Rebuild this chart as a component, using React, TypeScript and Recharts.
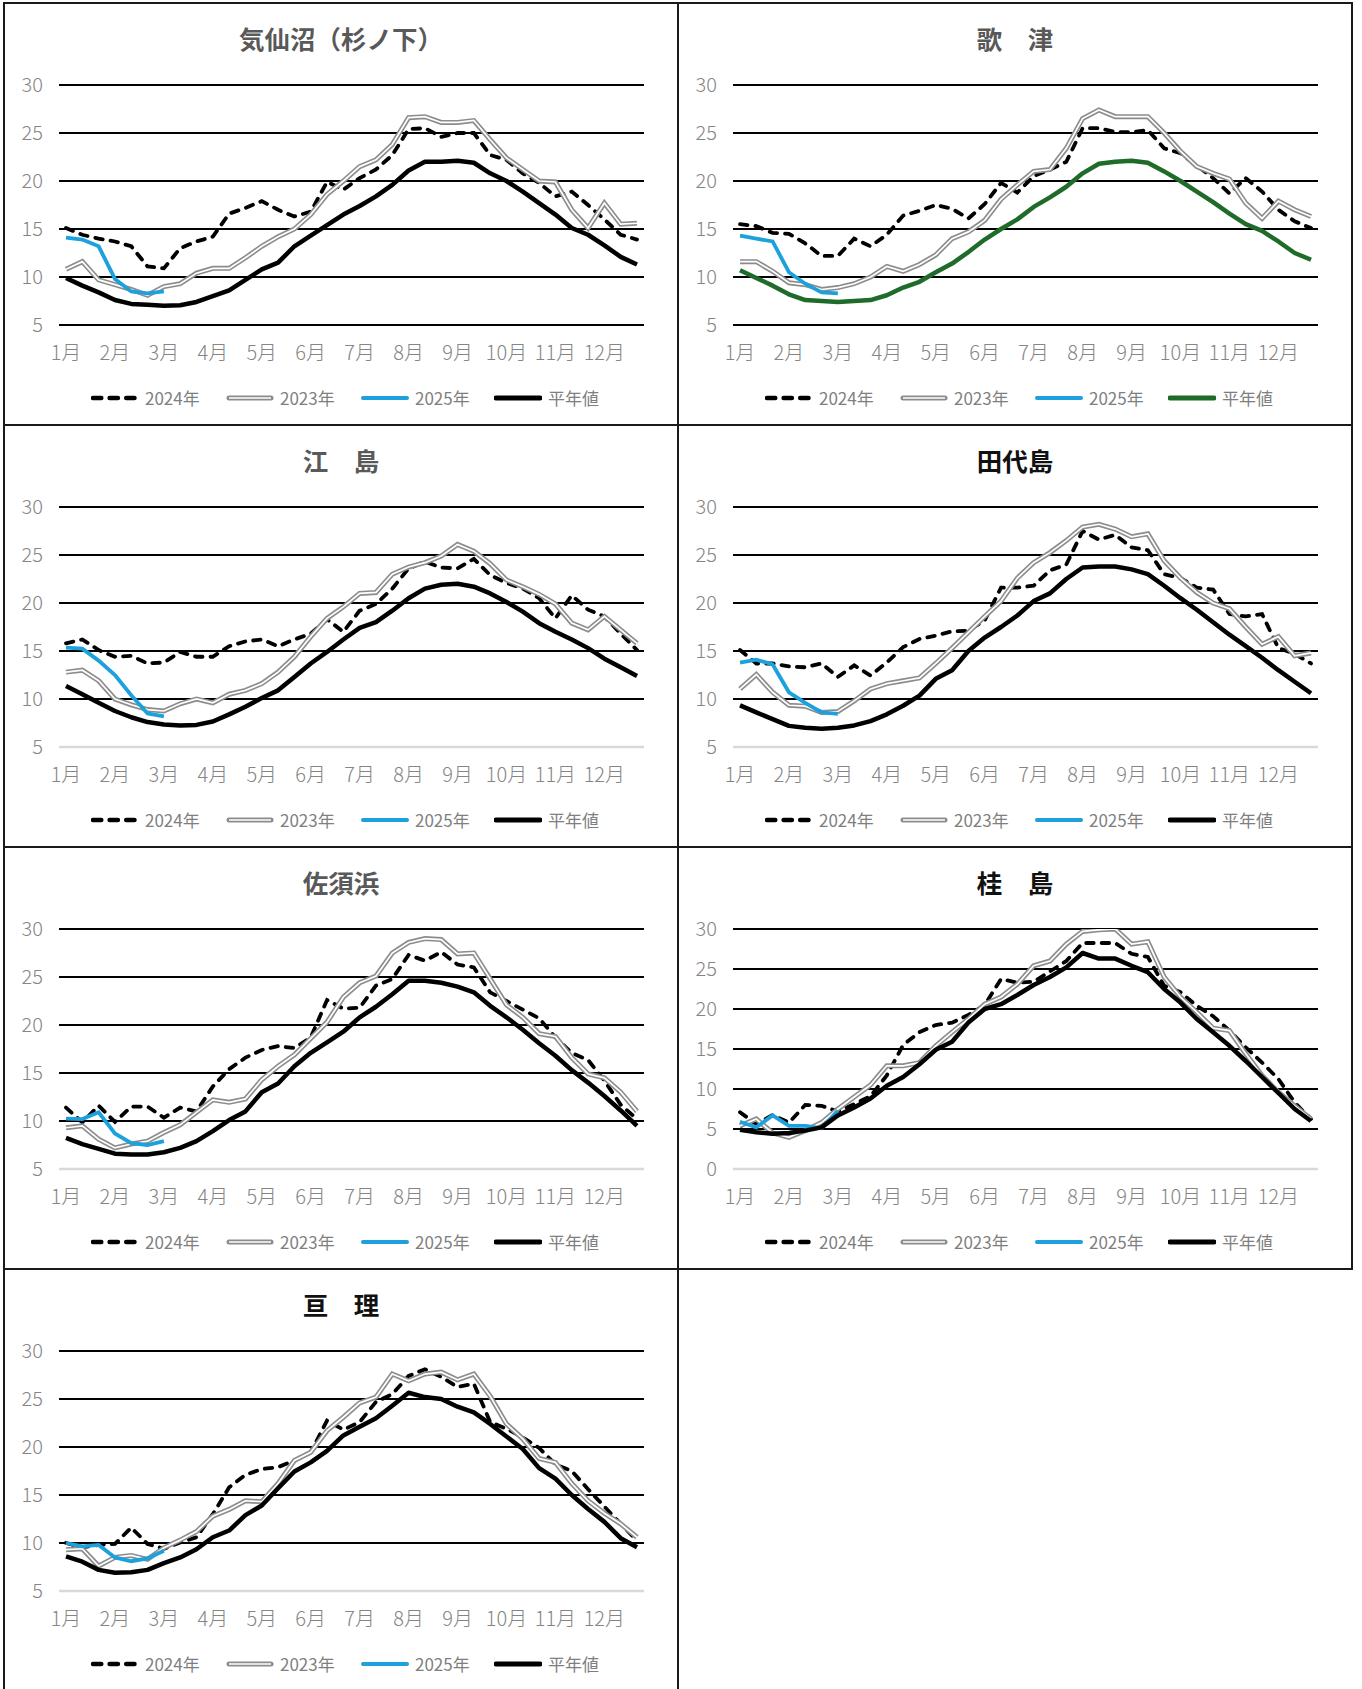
import React from 'react';
import { LineChart, Line, XAxis, YAxis, CartesianGrid, ReferenceLine } from 'recharts';

// 月ラベル（上旬ごとに表示）
const monthLabels = ['1月', '2月', '3月', '4月', '5月', '6月', '7月', '8月', '9月', '10月', '11月', '12月'];
const decades = ['上旬', '中旬', '下旬'];

// 気仙沼（杉ノ下）
const kesennuma2024 = [15.1, 14.4, 14.0, 13.7, 13.2, 11.1, 10.9, 13.0, 13.7, 14.2, 16.6, 17.2, 17.9, 17.0, 16.3, 16.8, 19.9, 19.1, 20.3, 21.2, 22.7, 25.4, 25.5, 24.6, 25.0, 25.0, 22.7, 22.2, 20.8, 19.8, 18.4, 18.9, 17.5, 16.0, 14.4, 13.9];
const kesennuma2023 = [10.8, 11.6, 9.7, 9.2, 8.7, 8.1, 9.0, 9.3, 10.4, 10.9, 10.9, 12.0, 13.2, 14.2, 15.0, 16.5, 18.6, 20.0, 21.5, 22.2, 23.8, 26.6, 26.7, 26.1, 26.1, 26.3, 24.3, 22.4, 21.2, 20.0, 19.9, 17.0, 15.1, 17.7, 15.5, 15.6];
const kesennuma2025 = [14.1, 13.9, 13.2, 9.8, 8.5, 8.3, 8.5];
const kesennumaNormal = [9.9, 9.1, 8.4, 7.6, 7.2, 7.1, 7.0, 7.05, 7.4, 8.0, 8.6, 9.7, 10.8, 11.5, 13.2, 14.3, 15.4, 16.5, 17.4, 18.4, 19.6, 21.1, 22.0, 22.0, 22.1, 21.9, 20.8, 20.0, 18.9, 17.7, 16.5, 15.1, 14.4, 13.3, 12.1, 11.3];

// 歌津
const utatsu2024 = [15.5, 15.3, 14.6, 14.5, 13.5, 12.2, 12.2, 14.0, 13.2, 14.4, 16.4, 16.9, 17.5, 17.1, 16.1, 17.6, 19.8, 18.8, 20.5, 21.2, 22.0, 25.5, 25.5, 25.1, 25.1, 25.3, 23.4, 22.9, 21.6, 20.3, 18.7, 20.3, 18.9, 17.0, 15.8, 15.1];
const utatsu2023 = [11.6, 11.6, 10.6, 9.4, 9.2, 8.7, 8.9, 9.3, 10.0, 11.1, 10.6, 11.3, 12.3, 14.0, 14.7, 15.9, 18.1, 19.6, 21.0, 21.2, 23.4, 26.5, 27.4, 26.7, 26.7, 26.7, 25.0, 23.1, 21.5, 20.8, 20.2, 17.7, 16.1, 17.9, 17.0, 16.3];
const utatsu2025 = [14.3, 14.0, 13.7, 10.5, 9.3, 8.4, 8.3];
const utatsuNormal = [10.7, 9.9, 9.1, 8.2, 7.6, 7.5, 7.4, 7.5, 7.6, 8.1, 8.9, 9.5, 10.5, 11.4, 12.6, 13.9, 15.0, 16.0, 17.3, 18.3, 19.4, 20.8, 21.8, 22.0, 22.1, 21.9, 21.0, 20.0, 18.9, 17.8, 16.6, 15.5, 14.8, 13.7, 12.5, 11.8];

// 江島
const enoshima2024 = [15.8, 16.2, 15.1, 14.4, 14.5, 13.7, 13.8, 14.9, 14.4, 14.4, 15.5, 16.0, 16.2, 15.5, 16.2, 16.8, 18.3, 17.0, 19.2, 19.9, 21.5, 23.6, 24.3, 23.7, 23.6, 24.6, 22.9, 22.1, 21.5, 20.5, 18.4, 20.8, 19.3, 18.6, 16.8, 15.1];
const enoshima2023 = [12.8, 13.0, 11.9, 10.0, 9.4, 8.9, 8.75, 9.5, 10.0, 9.6, 10.5, 10.9, 11.6, 12.8, 14.4, 16.5, 18.4, 19.6, 21.0, 21.1, 23.0, 23.75, 24.2, 24.9, 26.1, 25.4, 24.1, 22.4, 21.7, 20.9, 19.9, 17.9, 17.2, 18.6, 17.2, 15.8];
const enoshima2025 = [15.35, 15.25, 14.0, 12.5, 10.4, 8.5, 8.2];
const enoshimaNormal = [11.35, 10.5, 9.6, 8.75, 8.1, 7.6, 7.35, 7.25, 7.3, 7.65, 8.4, 9.2, 10.1, 10.9, 12.3, 13.7, 14.9, 16.2, 17.4, 18.0, 19.2, 20.5, 21.5, 21.9, 22.0, 21.7, 21.0, 20.1, 19.1, 17.9, 17.0, 16.2, 15.3, 14.2, 13.3, 12.4];

// 田代島
const tashiro2024 = [15.1, 13.7, 13.7, 13.4, 13.3, 13.7, 12.3, 13.5, 12.45, 13.8, 15.4, 16.25, 16.6, 17.05, 17.1, 18.2, 21.6, 21.6, 21.8, 23.4, 24.0, 27.5, 26.6, 27.1, 25.8, 25.5, 23.0, 22.6, 21.6, 21.4, 18.85, 18.6, 18.85, 15.3, 14.7, 13.7];
const tashiro2023 = [11.05, 12.55, 10.7, 9.35, 9.25, 8.6, 8.7, 9.8, 11.05, 11.6, 11.9, 12.2, 13.7, 15.3, 16.95, 18.6, 20.2, 22.6, 24.2, 25.25, 26.5, 27.9, 28.2, 27.7, 26.9, 27.2, 24.4, 22.6, 21.1, 20.0, 19.4, 17.5, 15.7, 16.5, 14.5, 14.8];
const tashiro2025 = [13.8, 14.1, 13.6, 10.7, 9.6, 8.6, 8.45];
const tashiroNormal = [9.33, 8.6, 7.9, 7.2, 7.0, 6.9, 7.0, 7.25, 7.7, 8.4, 9.3, 10.35, 12.1, 13.0, 15.0, 16.4, 17.5, 18.7, 20.2, 21.0, 22.5, 23.7, 23.8, 23.8, 23.5, 23.0, 21.8, 20.5, 19.3, 18.0, 16.7, 15.5, 14.3, 13.0, 11.8, 10.6];

// 佐須浜
const susuhama2024 = [11.4, 9.85, 11.6, 9.9, 11.5, 11.5, 10.35, 11.4, 11.0, 13.6, 15.4, 16.6, 17.4, 17.8, 17.6, 18.7, 22.6, 21.7, 21.8, 24.1, 24.8, 27.3, 26.7, 27.6, 26.3, 26.0, 23.4, 22.5, 21.6, 20.7, 18.7, 17.1, 16.35, 14.2, 11.7, 10.2];
const susuhama2023 = [9.3, 9.5, 8.1, 7.2, 7.6, 7.9, 8.8, 9.6, 10.9, 12.2, 11.95, 12.3, 14.3, 15.7, 16.9, 18.6, 20.3, 22.9, 24.4, 25.1, 27.5, 28.6, 29.0, 28.9, 27.4, 27.5, 24.8, 22.1, 20.8, 19.1, 18.8, 16.6, 14.9, 14.5, 13.0, 11.0];
const susuhama2025 = [10.25, 10.2, 10.9, 8.7, 7.7, 7.5, 7.9];
const susuhamaNormal = [8.24, 7.6, 7.1, 6.6, 6.5, 6.5, 6.75, 7.2, 7.9, 8.95, 10.1, 11.0, 13.0, 13.9, 15.7, 17.1, 18.2, 19.3, 20.8, 21.9, 23.2, 24.6, 24.6, 24.4, 24.0, 23.4, 22.0, 20.8, 19.5, 18.1, 16.8, 15.3, 14.0, 12.6, 11.1, 9.5];

// 桂島
const katsura2024 = [7.1, 5.6, 6.75, 5.8, 8.0, 7.9, 7.2, 8.1, 9.1, 11.7, 15.5, 17.1, 18.0, 18.3, 19.25, 20.5, 23.75, 23.3, 23.4, 24.7, 26.0, 28.25, 28.25, 28.25, 26.9, 26.5, 22.9, 22.1, 20.4, 19.1, 17.3, 15.2, 13.3, 11.25, 8.3, 6.25];
const katsura2023 = [5.4, 6.25, 4.5, 3.95, 4.8, 5.8, 7.5, 9.0, 10.5, 12.9, 12.9, 13.3, 15.4, 17.1, 18.75, 20.6, 21.5, 23.1, 25.4, 26.0, 28.1, 29.7, 29.9, 30.0, 28.1, 28.4, 24.0, 21.5, 19.6, 17.6, 17.3, 14.4, 11.7, 9.6, 7.9, 6.25];
const katsura2025 = [5.9, 5.2, 6.7, 5.4, 5.4, 5.1, 7.3];
const katsuraNormal = [4.9, 4.6, 4.4, 4.5, 4.8, 5.2, 6.7, 7.7, 8.8, 10.4, 11.5, 13.1, 14.9, 15.9, 18.3, 20.0, 20.6, 21.75, 23.0, 24.0, 25.2, 27.0, 26.3, 26.3, 25.4, 24.6, 22.5, 20.8, 18.75, 17.1, 15.4, 13.5, 11.5, 9.5, 7.5, 6.0];

// 亘理
const watari2024 = [10.0, 9.55, 9.8, 9.9, 11.6, 9.9, 9.4, 10.05, 10.6, 13.0, 15.8, 17.1, 17.7, 17.9, 18.6, 19.45, 22.75, 21.8, 22.6, 24.7, 25.5, 27.4, 28.1, 27.3, 26.25, 26.6, 22.6, 21.9, 21.0, 19.9, 18.2, 17.5, 15.6, 13.8, 12.0, 10.25];
const watari2023 = [9.3, 9.4, 7.6, 8.5, 8.7, 8.3, 9.5, 10.3, 11.2, 12.8, 13.5, 14.4, 14.3, 16.2, 18.6, 19.45, 21.7, 23.1, 24.6, 25.2, 27.6, 26.9, 27.6, 27.8, 27.0, 27.6, 25.3, 22.4, 20.85, 18.8, 18.4, 16.2, 14.4, 13.1, 12.0, 10.6];
const watari2025 = [10.0, 9.65, 9.8, 8.5, 8.1, 8.4, 9.2];
const watariNormal = [8.6, 8.05, 7.2, 6.9, 6.95, 7.2, 7.9, 8.5, 9.35, 10.6, 11.3, 12.9, 13.9, 15.7, 17.45, 18.4, 19.6, 21.2, 22.1, 23.0, 24.3, 25.65, 25.2, 25.0, 24.2, 23.6, 22.4, 21.1, 19.8, 17.8, 16.7, 15.0, 13.55, 12.2, 10.5, 9.55];

const periods = monthLabels.flatMap(m => decades.map(d => m + d));

type Station = {
  title: string;
  titleColor: string;
  s2024: number[];
  s2023: number[];
  s2025: number[];
  normal: number[];
  normalColor: string;
  yMin: number;
  grayBottom: boolean;
};

const stations: Station[] = [
  { title: '気仙沼（杉ノ下）', titleColor: '#595959', s2024: kesennuma2024, s2023: kesennuma2023, s2025: kesennuma2025, normal: kesennumaNormal, normalColor: '#000', yMin: 5, grayBottom: false },
  { title: '歌　津', titleColor: '#595959', s2024: utatsu2024, s2023: utatsu2023, s2025: utatsu2025, normal: utatsuNormal, normalColor: '#1e6b2a', yMin: 5, grayBottom: false },
  { title: '江　島', titleColor: '#595959', s2024: enoshima2024, s2023: enoshima2023, s2025: enoshima2025, normal: enoshimaNormal, normalColor: '#000', yMin: 5, grayBottom: true },
  { title: '田代島', titleColor: '#111', s2024: tashiro2024, s2023: tashiro2023, s2025: tashiro2025, normal: tashiroNormal, normalColor: '#000', yMin: 5, grayBottom: true },
  { title: '佐須浜', titleColor: '#595959', s2024: susuhama2024, s2023: susuhama2023, s2025: susuhama2025, normal: susuhamaNormal, normalColor: '#000', yMin: 5, grayBottom: true },
  { title: '桂　島', titleColor: '#111', s2024: katsura2024, s2023: katsura2023, s2025: katsura2025, normal: katsuraNormal, normalColor: '#000', yMin: 0, grayBottom: true },
  { title: '亘　理', titleColor: '#111', s2024: watari2024, s2023: watari2023, s2025: watari2025, normal: watariNormal, normalColor: '#000', yMin: 5, grayBottom: true },
];

const panelPos = [[3, 2], [677, 2], [3, 424], [677, 424], [3, 846], [677, 846], [3, 1268]];

const tickStyle = { fill: '#858585', fontSize: 20, fontWeight: 300 };

function LegendIcon({ kind, color }: { kind: string; color?: string }) {
  if (kind === 'dash') {
    return (
      <svg width={48} height={12}>
        <line x1={2} y1={6} x2={47} y2={6} stroke="#000" strokeWidth={4.5} strokeDasharray="8.3 8.3" strokeLinecap="round" />
      </svg>
    );
  }
  if (kind === 'double') {
    return (
      <svg width={48} height={12}>
        <line x1={3} y1={6} x2={45} y2={6} stroke="#8c8c8c" strokeWidth={5} strokeLinecap="round" />
        <line x1={3} y1={6} x2={45} y2={6} stroke="#fff" strokeWidth={1.6} />
      </svg>
    );
  }
  return (
    <svg width={48} height={12}>
      <line x1={2} y1={6} x2={46} y2={6} stroke={color} strokeWidth={kind === 'thick' ? 5 : 4} strokeLinecap="round" />
    </svg>
  );
}

function Panel({ st, left, top, last }: { st: Station; left: number; top: number; last: boolean }) {
  const rows = periods.map((p, i) => ({
    period: p,
    y2024: st.s2024[i],
    y2023: st.s2023[i],
    y2023in: st.s2023[i],
    y2025: i < st.s2025.length ? st.s2025[i] : null,
    normal: st.normal[i],
  }));
  const ticks = st.yMin === 0 ? [0, 5, 10, 15, 20, 25, 30] : [5, 10, 15, 20, 25, 30];
  const legendItems = [
    { label: '2024年', kind: 'dash', color: '#000', x: 86 },
    { label: '2023年', kind: 'double', color: '#8c8c8c', x: 221 },
    { label: '2025年', kind: 'line', color: '#1da1dc', x: 356 },
    { label: '平年値', kind: 'thick', color: st.normalColor, x: 489 },
  ];

  return (
    <div
      style={{
        position: 'absolute',
        left,
        top,
        width: 676,
        height: last ? 1689 - top : 424,
        border: '2px solid #1a1a1a',
        borderBottom: last ? 'none' : '2px solid #1a1a1a',
        boxSizing: 'border-box',
        background: '#fff',
      }}
    >
      <div
        style={{
          position: 'absolute',
          left: 0,
          top: 19,
          width: 672,
          lineHeight: '30px',
          textAlign: 'center',
          fontSize: 25.5,
          fontWeight: 700,
          color: st.titleColor,
        }}
      >
        {st.title}
      </div>
      <LineChart width={672} height={420} data={rows} margin={{ top: 81, right: 33, left: 0, bottom: 59 }}>
        <CartesianGrid vertical={false} stroke="#000" strokeWidth={1.8} />
        <XAxis
          dataKey="period"
          interval={0}
          tickLine={false}
          axisLine={false}
          tickSize={0}
          tickMargin={21}
          height={40}
          padding={{ left: 7, right: 7 }}
          tick={tickStyle}
          tickFormatter={(v: string) => (v.endsWith('上旬') ? v.replace('上旬', '') : '')}
        />
        <YAxis
          domain={[st.yMin, 30]}
          ticks={ticks}
          interval={0}
          allowDataOverflow
          tickLine={false}
          axisLine={false}
          tickSize={0}
          tickMargin={16}
          width={54}
          tick={tickStyle}
        />
        {st.grayBottom && <ReferenceLine y={st.yMin} stroke="#d9d9d9" strokeWidth={2.5} />}
        <Line dataKey="y2024" type="linear" stroke="#000" strokeWidth={3.8} strokeDasharray="7.5 8" strokeLinecap="round" dot={false} activeDot={false} isAnimationActive={false} />
        <Line dataKey="y2023" type="linear" stroke="#8c8c8c" strokeWidth={5} dot={false} activeDot={false} isAnimationActive={false} />
        <Line dataKey="y2023in" type="linear" stroke="#fff" strokeWidth={1.7} dot={false} activeDot={false} isAnimationActive={false} />
        <Line dataKey="y2025" type="linear" stroke="#1da1dc" strokeWidth={3.8} dot={false} activeDot={false} isAnimationActive={false} />
        <Line dataKey="normal" type="linear" stroke={st.normalColor} strokeWidth={4.5} strokeLinejoin="round" dot={false} activeDot={false} isAnimationActive={false} />
      </LineChart>
      {legendItems.map(it => (
        <div
          key={it.label}
          style={{ position: 'absolute', left: it.x, top: 382, height: 24, display: 'flex', alignItems: 'center' }}
        >
          <LegendIcon kind={it.kind} color={it.color} />
          <span style={{ marginLeft: 6, fontSize: 17, color: '#7f7f7f', lineHeight: '24px' }}>{it.label}</span>
        </div>
      ))}
    </div>
  );
}

export default function App() {
  return (
    <div
      style={{
        position: 'absolute',
        left: 0,
        top: 0,
        width: 1362,
        height: 1689,
        background: '#fff',
        fontFamily: '"Noto Sans CJK JP", "Noto Sans", sans-serif',
        overflow: 'hidden',
      }}
    >
      {stations.map((st, i) => (
        <Panel key={st.title} st={st} left={panelPos[i][0]} top={panelPos[i][1]} last={i === stations.length - 1} />
      ))}
    </div>
  );
}
